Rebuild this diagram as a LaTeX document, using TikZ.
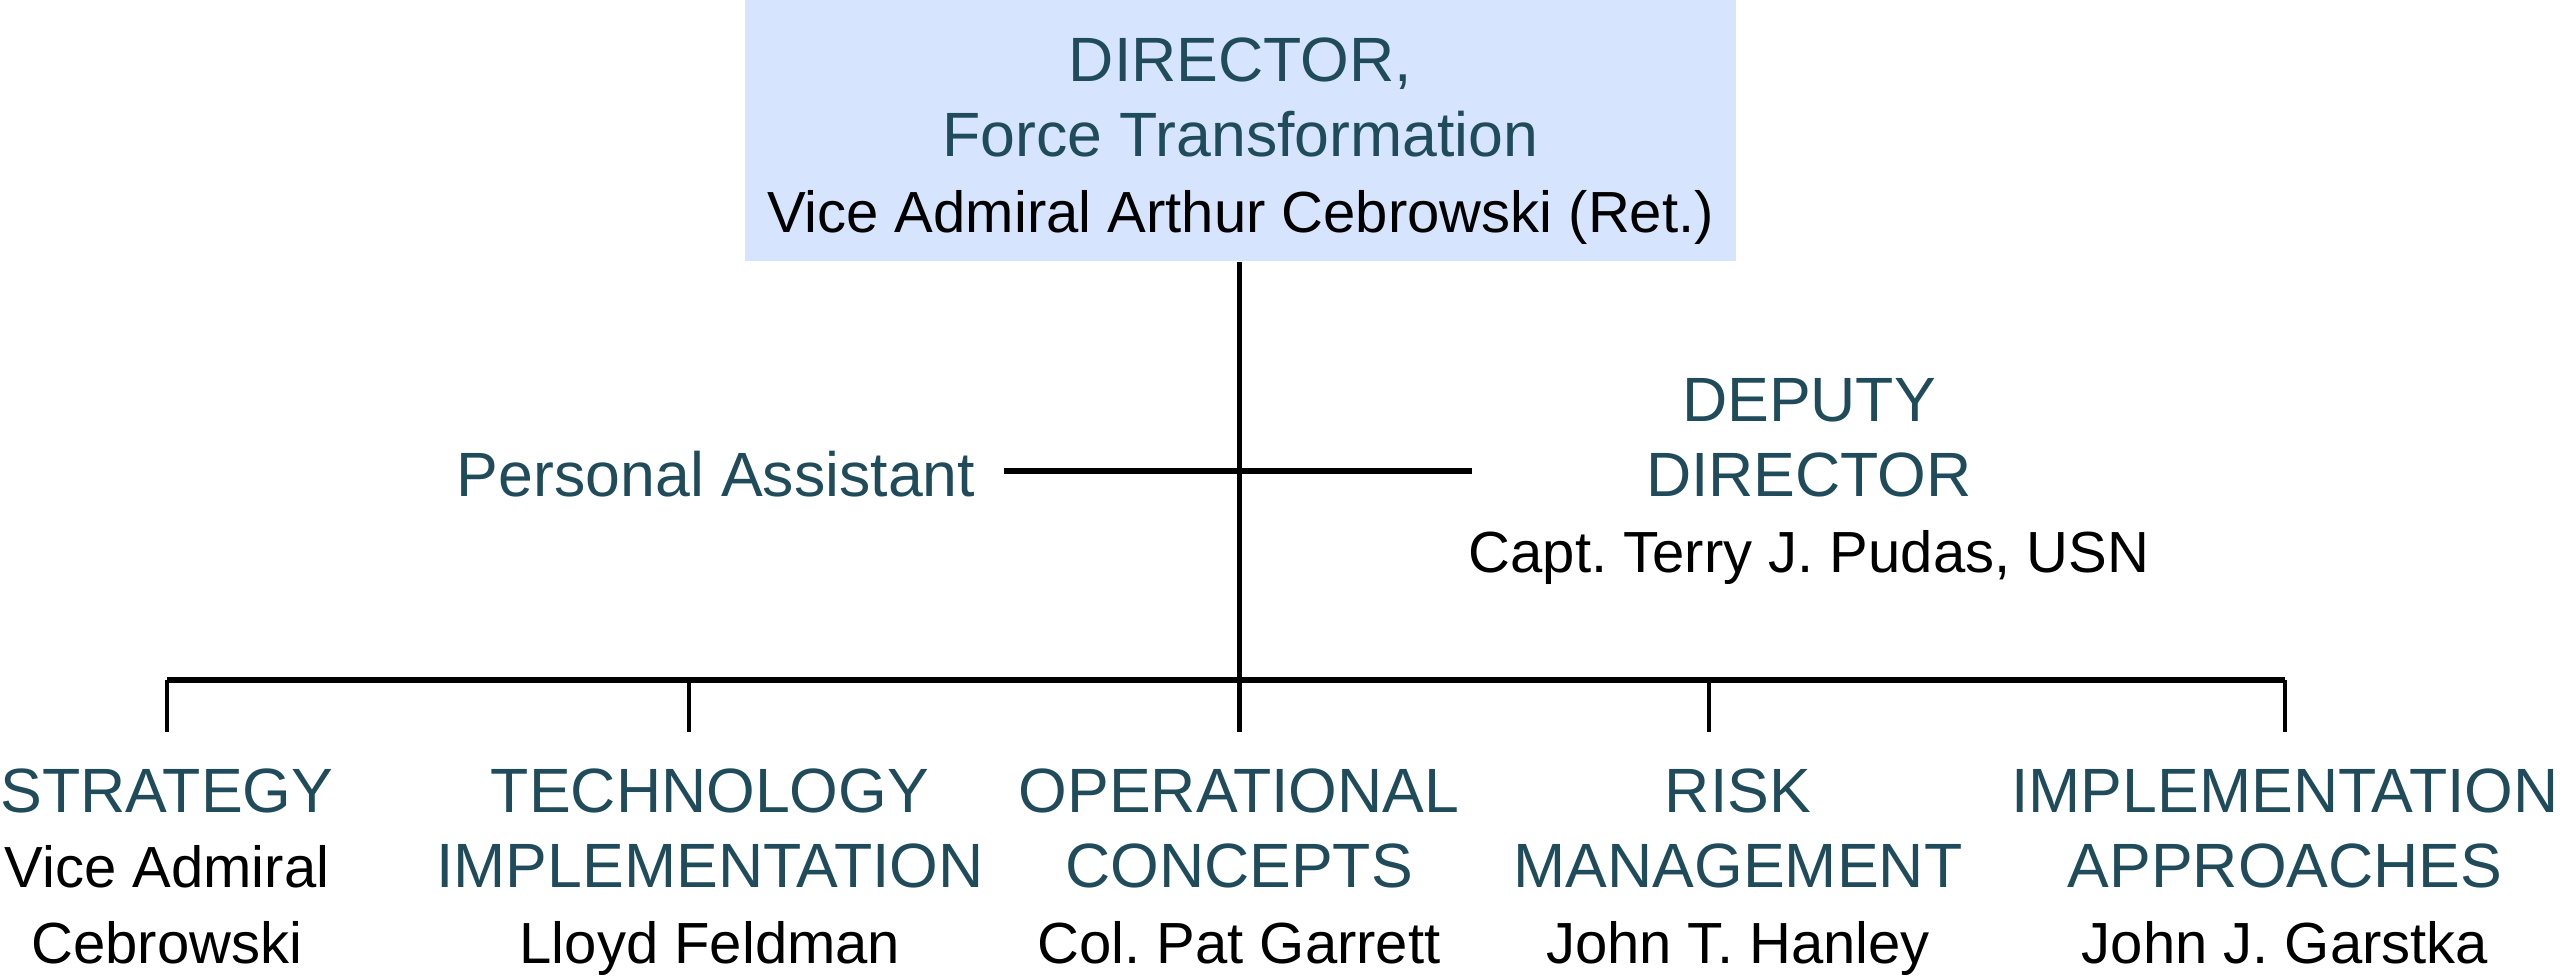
\documentclass[tikz,border=0pt]{standalone}
\usepackage{fontspec}
\setmainfont{Liberation Sans}
\frenchspacing
\usetikzlibrary{positioning}
\definecolor{headteal}{HTML}{1F4B5B}
\definecolor{boxblue}{HTML}{D6E4FD}
\newcommand{\hd}[1]{{\color{headteal}\fontsize{17.8}{21.6}\selectfont\strut #1}}
\newcommand{\nm}[1]{{\fontsize{16.5}{21.6}\selectfont\strut #1}}

\begin{document}
\begin{tikzpicture}[x=0.01cm,y=-0.01cm,
  every node/.style={font=\fontsize{16.5}{21.6}\selectfont,align=center,inner sep=0pt},
  trunk/.style={line width=1.4pt},
  branch/.style={line width=1.8pt},
  bus/.style={line width=1.5pt},
  drop/.style={line width=1.2pt}]
 \useasboundingbox (0,0) rectangle (2560,976);
 % director at the top
 \node[fill=boxblue,minimum width=9.91cm,minimum height=2.61cm] (dir) at (1240.5,130.5) {};
 \node (dirtxt) at (1240.5,141.8)
   {\hd{DIRECTOR,}\\ \hd{Force Transformation}\\ \nm{Vice Admiral Arthur Cebrowski (Ret.)}};
 \node[anchor=east] (pa) at (976,481.8) {\hd{Personal Assistant}};
 \node (dep) at (1809,481.8) {\hd{DEPUTY}\\ \hd{DIRECTOR}\\ \nm{Capt. Terry J. Pudas, USN}};
 % the five offices
 \node (strat) at (167,872.8) {\hd{STRATEGY}\\ \nm{Vice Admiral}\\ \nm{Cebrowski}};
 \node (tech) at (710,872.8) {\hd{TECHNOLOGY}\\ \hd{IMPLEMENTATION}\\ \nm{Lloyd Feldman}};
 \node (ops) at (1239,872.8) {\hd{OPERATIONAL}\\ \hd{CONCEPTS}\\ \nm{Col. Pat Garrett}};
 \node (risk) at (1738,872.8) {\hd{RISK}\\ \hd{MANAGEMENT}\\ \nm{John T. Hanley}};
 \node (impl) at (2285,872.8) {\hd{IMPLEMENTATION}\\ \hd{APPROACHES}\\ \nm{John J. Garstka}};
 \foreach \n/\x in {1/167,2/689,3/1239.5,4/1709,5/2285}
   \coordinate (t\n) at (\x,680);
 \draw[trunk] (dir.south -| t3) -- (t3);
 \draw[branch] ([xshift=2.8mm,yshift=1.1mm]pa.east) -- ([xshift=0.4mm,yshift=1.1mm]pa.east -| dep.west);
 \draw[bus] (t1) -- (t5);
 \foreach \n in {1,...,5}
   \draw[drop] (t\n) -- ++(0,52);
\end{tikzpicture}
\end{document}
